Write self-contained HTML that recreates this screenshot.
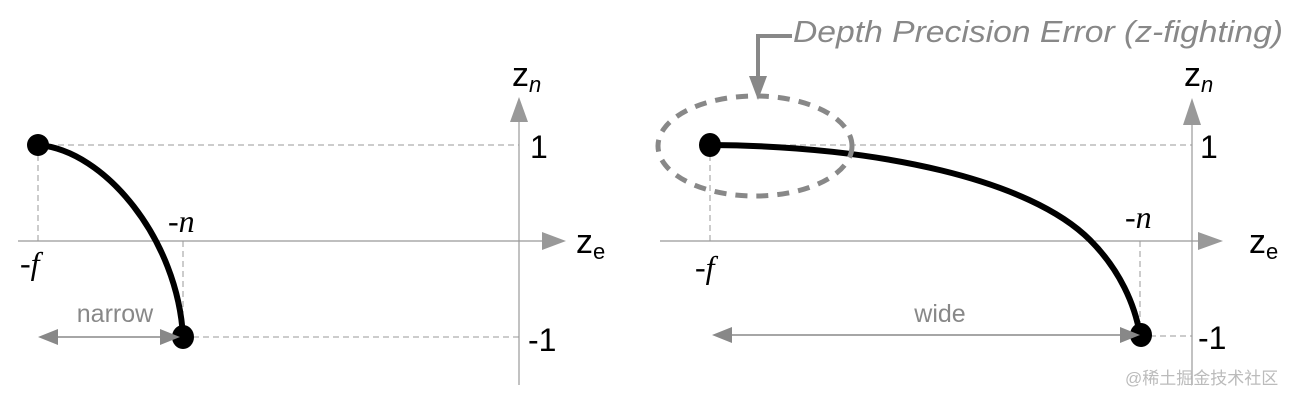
<!DOCTYPE html>
<html><head><meta charset="utf-8"><style>
html,body{margin:0;padding:0;background:#fff;}
svg{display:block;}
text{font-family:"Liberation Sans","Noto Sans CJK SC",sans-serif;}
.ser{font-family:"Liberation Serif",serif;font-style:italic;}
</style></head><body>
<svg width="1300" height="400" viewBox="0 0 1300 400">
<g>
  <line x1="18" y1="241" x2="545" y2="241" stroke="#999" stroke-width="1.2"/>
  <polygon points="542,232 542,250 566,241" fill="#999"/>
  <line x1="519" y1="385" x2="519" y2="118" stroke="#999" stroke-width="1.2"/>
  <polygon points="510,122 528,122 519,97" fill="#999"/>
  <line x1="38" y1="145" x2="519" y2="145" stroke="#999" stroke-dasharray="6,4"/>
  <line x1="183" y1="337" x2="519" y2="337" stroke="#999" stroke-dasharray="6,4"/>
  <line x1="38" y1="145" x2="38" y2="241" stroke="#999" stroke-dasharray="6,4"/>
  <line x1="183" y1="241" x2="183" y2="337" stroke="#999" stroke-dasharray="6,4"/>
  <path d="M38,145 C105,150 178,240 183,337" fill="none" stroke="#000" stroke-width="6"/>
  <ellipse cx="38" cy="145" rx="11" ry="11" fill="#000"/>
  <ellipse cx="183" cy="337" rx="11" ry="12" fill="#000"/>
  <line x1="55" y1="337" x2="165" y2="337" stroke="#888" stroke-width="1.5"/>
  <polygon points="38,337 58,329 58,345" fill="#888"/>
  <polygon points="180,337 160,329 160,345" fill="#888"/>
  <text x="115" y="322" font-size="25" fill="#888" text-anchor="middle">narrow</text>
  <text x="20" y="274" class="ser" font-size="32">-f</text>
  <text x="168" y="232" class="ser" font-size="32">-n</text>
  <text x="530" y="158" font-size="32">1</text>
  <text x="528" y="351" font-size="32">-1</text>
  <text x="512" y="86" font-size="34">z<tspan font-size="22" font-style="italic" dy="6">n</tspan></text>
  <text x="576" y="253" font-size="34">z<tspan font-size="22" dy="6">e</tspan></text>
</g>
<g>
  <line x1="660" y1="241" x2="1200" y2="241" stroke="#999" stroke-width="1.2"/>
  <polygon points="1198,232 1198,250 1223,241" fill="#999"/>
  <line x1="1192" y1="385" x2="1192" y2="118" stroke="#999" stroke-width="1.2"/>
  <polygon points="1183,125 1201,125 1192,98" fill="#999"/>
  <line x1="710" y1="145" x2="1192" y2="145" stroke="#999" stroke-dasharray="6,4"/>
  <line x1="1140" y1="336" x2="1192" y2="336" stroke="#999" stroke-dasharray="6,4"/>
  <line x1="710" y1="145" x2="710" y2="241" stroke="#999" stroke-dasharray="6,4"/>
  <line x1="1140" y1="241" x2="1140" y2="336" stroke="#999" stroke-dasharray="6,4"/>
  <path d="M710,145 C880,146 1030,180 1090,240 C1120,270 1135,305 1140,335" fill="none" stroke="#000" stroke-width="6"/>
  <ellipse cx="755" cy="146" rx="97" ry="50" fill="none" stroke="#888" stroke-width="5" stroke-dasharray="12,9"/>
  <ellipse cx="710" cy="145" rx="11" ry="12" fill="#000"/>
  <ellipse cx="1141" cy="335" rx="11" ry="12" fill="#000"/>
  <line x1="728" y1="335" x2="1125" y2="335" stroke="#888" stroke-width="1.5"/>
  <polygon points="712,335 732,327 732,343" fill="#888"/>
  <polygon points="1140,335 1120,327 1120,343" fill="#888"/>
  <text x="940" y="322" font-size="25" fill="#888" text-anchor="middle">wide</text>
  <text x="695" y="278" class="ser" font-size="32">-f</text>
  <text x="1125" y="228" class="ser" font-size="32">-n</text>
  <text x="1200" y="158" font-size="32">1</text>
  <text x="1198" y="349" font-size="32">-1</text>
  <text x="1184" y="86" font-size="34">z<tspan font-size="22" font-style="italic" dy="6">n</tspan></text>
  <text x="1249" y="253" font-size="34">z<tspan font-size="22" dy="6">e</tspan></text>
  <polyline points="792,36 758,36 758,80" fill="none" stroke="#888" stroke-width="4"/>
  <polygon points="749,76 767,76 758,100" fill="#888"/>
  <text x="793" y="42" font-size="31" font-style="italic" fill="#888" textLength="490" lengthAdjust="spacingAndGlyphs">Depth Precision Error (z-fighting)</text>
  <text x="1125" y="384" font-size="17" fill="#bbb">@稀土掘金技术社区</text>
</g>
</svg>
</body></html>
